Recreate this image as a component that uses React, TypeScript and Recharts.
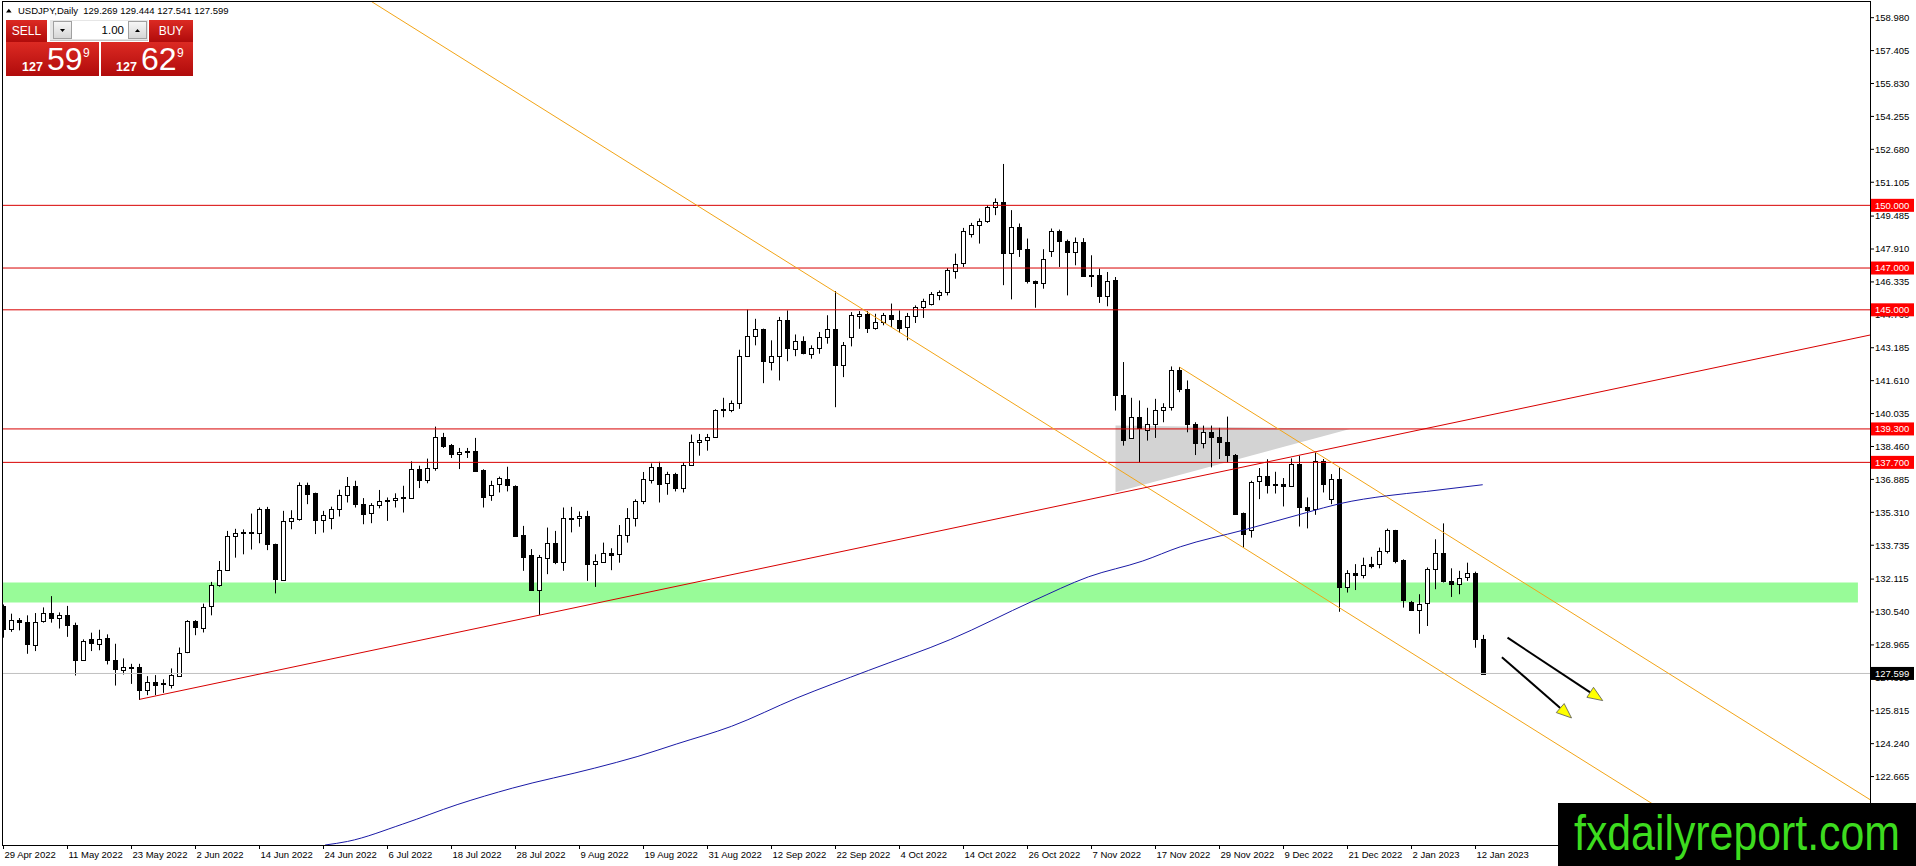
import React from 'react';
import { ComposedChart, Bar, Line, Area, XAxis, YAxis, ReferenceLine, ReferenceArea } from 'recharts';

// USDJPY daily bars, 29 Apr 2022 .. 16 Jan 2023
const opens = [
  130.83, 129.71, 130.14, 130.06, 128.99, 130.09, 130.47, 130.23, 130.38, 129.91,
  128.25, 129.23, 129.03, 129.29, 128.22, 127.77, 127.90, 127.90, 126.81, 127.21,
  127.13, 127.02, 127.50, 128.59, 130.09, 129.79, 130.84, 131.80, 132.54, 134.17,
  134.36, 134.35, 134.33, 135.46, 133.78, 132.10, 134.90, 134.99, 136.63, 136.23,
  134.94, 135.06, 135.46, 136.14, 136.57, 135.69, 135.30, 135.66, 135.91, 135.88,
  136.02, 136.00, 137.38, 136.85, 137.43, 138.90, 138.53, 138.10, 138.26, 138.26,
  137.35, 136.13, 136.66, 136.90, 136.58, 134.22, 133.26, 131.58, 133.11, 133.83,
  132.91, 135.04, 135.03, 135.14, 132.87, 132.95, 133.38, 133.30, 134.22, 135.02,
  135.85, 136.85, 137.49, 136.69, 137.14, 136.47, 137.59, 138.66, 138.77, 138.93,
  140.21, 140.21, 140.53, 142.80, 143.74, 144.08, 142.51, 142.80, 144.53, 143.14,
  143.50, 142.90, 143.17, 143.70, 144.10, 142.37, 143.66, 144.70, 144.81, 144.13,
  144.43, 144.74, 144.53, 144.14, 144.69, 145.13, 145.28, 145.74, 145.85, 146.89,
  147.21, 148.60, 149.04, 149.24, 149.90, 150.14, 147.74, 148.97, 147.92, 146.38,
  146.30, 147.77, 148.75, 148.30, 147.77, 148.24, 146.68, 146.65, 145.66, 146.41,
  140.93, 138.87, 139.86, 139.25, 139.54, 140.21, 140.37, 142.13, 141.22, 139.54,
  138.63, 139.17, 138.92, 138.69, 138.05, 135.27, 134.46, 136.77, 137.04, 136.66,
  136.66, 136.55, 137.62, 135.57, 135.45, 137.78, 135.94, 136.90, 131.71, 132.41,
  132.30, 132.86, 132.83, 133.43, 134.45, 133.03, 131.03, 130.67, 130.94, 132.59,
  133.38, 132.03, 131.87, 132.18, 132.39, 129.269,
];
const highs = [
  130.90, 130.46, 130.25, 130.38, 130.49, 130.76, 131.30, 130.52, 130.83, 130.03,
  129.23, 129.55, 129.69, 129.47, 129.02, 128.32, 128.06, 128.06, 127.47, 127.52,
  127.32, 127.84, 128.84, 130.15, 130.15, 130.94, 131.98, 132.98, 134.42, 134.52,
  134.49, 135.25, 135.54, 135.57, 133.81, 135.38, 135.41, 136.74, 136.73, 136.25,
  135.38, 135.58, 136.39, 137.00, 136.82, 135.99, 135.75, 136.38, 136.02, 136.22,
  136.58, 137.75, 137.54, 137.88, 139.41, 139.11, 138.58, 138.39, 138.39, 138.87,
  137.37, 136.82, 137.02, 137.49, 136.60, 134.66, 133.55, 133.27, 134.58, 134.42,
  135.54, 135.57, 135.35, 135.38, 133.30, 133.86, 133.59, 134.70, 135.51, 135.93,
  137.24, 137.65, 137.73, 137.25, 137.20, 137.69, 139.03, 139.06, 139.06, 140.24,
  140.79, 140.66, 143.09, 145.01, 144.57, 144.10, 143.54, 144.66, 144.97, 143.82,
  143.73, 143.30, 143.94, 144.74, 145.90, 143.46, 144.89, 144.94, 144.94, 144.81,
  144.85, 145.30, 144.97, 144.85, 145.21, 145.53, 145.85, 145.93, 147.00, 147.69,
  148.92, 149.16, 149.37, 150.01, 150.33, 151.98, 149.77, 149.13, 148.41, 146.40,
  147.90, 148.89, 148.84, 148.36, 148.46, 148.43, 147.61, 146.97, 146.81, 146.57,
  142.50, 140.79, 140.66, 140.31, 140.74, 140.53, 142.29, 142.26, 141.62, 139.62,
  139.46, 139.46, 139.35, 139.89, 138.10, 135.30, 136.82, 137.43, 137.85, 137.25,
  136.95, 137.89, 138.02, 136.02, 138.18, 137.86, 137.14, 137.46, 132.54, 132.83,
  133.14, 133.18, 133.62, 134.53, 134.47, 133.06, 131.07, 131.39, 132.67, 134.02,
  134.78, 132.63, 132.51, 132.90, 132.47, 129.444,
];
const lows = [
  129.31, 129.59, 129.66, 128.54, 128.67, 130.03, 130.03, 129.75, 129.35, 127.50,
  128.22, 128.67, 128.71, 128.03, 127.02, 127.55, 127.10, 126.33, 126.56, 126.56,
  126.67, 126.88, 127.44, 128.57, 129.43, 129.56, 130.38, 131.75, 132.50, 133.14,
  133.30, 133.53, 133.83, 133.50, 131.43, 132.05, 134.50, 134.91, 135.70, 134.27,
  134.34, 134.50, 135.11, 135.78, 135.54, 134.74, 134.79, 135.50, 134.90, 135.54,
  135.30, 135.98, 136.47, 136.70, 137.30, 138.39, 137.91, 137.38, 137.91, 137.27,
  135.54, 135.86, 136.26, 136.31, 134.14, 132.51, 131.55, 130.40, 132.35, 132.83,
  132.51, 134.35, 134.62, 132.03, 131.74, 132.90, 132.54, 132.90, 133.86, 134.63,
  135.70, 136.69, 135.78, 136.15, 136.31, 136.26, 137.55, 138.02, 138.26, 138.90,
  139.86, 140.10, 140.26, 142.74, 143.30, 141.49, 142.10, 141.62, 142.54, 142.78,
  142.87, 142.66, 142.90, 143.38, 140.34, 141.78, 143.25, 144.09, 143.89, 144.05,
  144.26, 144.18, 143.89, 143.54, 144.37, 144.61, 145.21, 145.46, 145.69, 146.49,
  147.05, 148.46, 148.17, 149.16, 149.53, 146.18, 145.50, 147.53, 146.26, 145.10,
  146.01, 147.53, 147.05, 145.69, 147.13, 146.57, 146.09, 145.33, 145.17, 140.18,
  138.50, 138.85, 137.70, 138.74, 138.87, 139.62, 140.18, 141.06, 139.14, 138.05,
  138.37, 137.46, 137.86, 137.70, 135.20, 133.62, 134.10, 135.94, 136.21, 136.21,
  135.59, 136.53, 134.63, 134.54, 135.19, 136.26, 135.70, 130.55, 131.47, 131.59,
  132.15, 132.63, 132.63, 133.34, 132.87, 130.75, 130.62, 129.50, 129.87, 131.63,
  131.95, 131.26, 131.39, 132.03, 128.83, 127.541,
];
const closes = [
  129.71, 130.14, 130.04, 128.99, 130.07, 130.47, 130.22, 130.38, 129.90, 128.25,
  129.15, 129.03, 129.27, 128.22, 127.77, 127.90, 127.86, 126.81, 127.20, 127.07,
  127.08, 127.52, 128.59, 130.09, 129.79, 130.78, 131.83, 132.54, 134.17, 134.31,
  134.31, 134.33, 135.46, 133.78, 132.10, 134.90, 135.03, 136.63, 136.22, 134.94,
  135.18, 135.48, 136.14, 136.57, 135.69, 135.22, 135.66, 135.85, 135.85, 135.98,
  136.00, 137.38, 136.85, 137.43, 138.90, 138.47, 138.10, 138.21, 138.23, 137.30,
  136.07, 136.62, 136.95, 136.62, 134.19, 133.19, 131.58, 133.18, 133.83, 132.91,
  135.03, 135.06, 135.13, 132.86, 132.99, 133.38, 133.30, 134.22, 135.02, 135.85,
  136.90, 137.49, 136.69, 137.14, 136.47, 137.59, 138.68, 138.77, 138.93, 140.21,
  140.23, 140.53, 142.80, 143.74, 144.08, 142.55, 142.80, 144.53, 143.18, 143.50,
  142.93, 143.17, 143.70, 144.10, 142.37, 143.33, 144.73, 144.81, 144.14, 144.41,
  144.77, 144.53, 144.13, 144.69, 145.13, 145.41, 145.74, 145.87, 146.89, 147.21,
  148.76, 149.05, 149.24, 149.90, 150.14, 147.69, 148.97, 147.92, 146.38, 146.29,
  147.45, 148.75, 148.25, 147.77, 148.24, 146.61, 146.62, 145.66, 146.38, 140.90,
  138.77, 139.86, 139.33, 139.54, 140.21, 140.37, 142.13, 141.22, 139.54, 138.63,
  139.17, 138.92, 138.68, 138.07, 135.22, 134.26, 136.77, 137.03, 136.61, 136.61,
  136.58, 137.62, 135.54, 135.45, 137.75, 136.69, 136.90, 131.71, 132.39, 132.30,
  132.78, 132.78, 133.46, 134.45, 132.98, 131.10, 130.67, 130.94, 132.59, 133.35,
  132.03, 131.87, 132.18, 132.39, 129.23, 127.599,
];

// bottom axis labels, one every 8 bars
const dateLabels = [
  '29 Apr 2022', '11 May 2022', '23 May 2022', '2 Jun 2022', '14 Jun 2022', '24 Jun 2022',
  '6 Jul 2022', '18 Jul 2022', '28 Jul 2022', '9 Aug 2022', '19 Aug 2022', '31 Aug 2022',
  '12 Sep 2022', '22 Sep 2022', '4 Oct 2022', '14 Oct 2022', '26 Oct 2022', '7 Nov 2022',
  '17 Nov 2022', '29 Nov 2022', '9 Dec 2022', '21 Dec 2022', '2 Jan 2023', '12 Jan 2023',
];
const priceTicks = [
  158.98, 157.405, 155.83, 154.255, 152.68, 151.105, 149.485, 147.91, 146.335, 144.76,
  143.185, 141.61, 140.035, 138.46, 136.885, 135.31, 133.735, 132.115, 130.54, 128.965,
  127.39, 125.815, 124.24, 122.665,
];
const levels = [150, 147, 145, 139.3, 137.7];
const lastPrice = 127.599;

// moving average (blue), sampled along the curve
const maBars = [40.2, 43.0, 49.9, 56.7, 63.6, 73.9, 79.3, 84.1, 91.0, 99.2, 108.1, 118.4, 128.7, 135.6, 142.4, 147.1, 155.0, 162.9, 167.1, 172.9, 177.9, 184.9];
const maValues = [119.39, 119.56, 120.39, 121.32, 122.11, 123.07, 123.63, 124.22, 125.07, 126.43, 127.74, 129.23, 131.07, 132.22, 132.98, 133.66, 134.46, 135.30, 135.73, 136.10, 136.31, 136.63];

// drawn objects: [bar, price] end points
const channelLower = [[46.0, 159.75], [214.5, 119.35]];
const channelUpper = [[147.0, 142.26], [233.4, 121.54]];
const supportLine = [[17.0, 126.36], [233.4, 143.80]];
const arrowA = [[188.0, 129.31], [199.9, 126.30]];
const arrowB = [[187.3, 128.38], [196.0, 125.47]];
const greenZone = { from: -0.1, to: 231.8, low: 131.0, high: 131.95 };
const pennant = [[139.0, 136.27, 139.46], [168.3, 139.3, 139.3]];

const X_DOMAIN = [-0.0625, 233.31];
const Y_DOMAIN = [119.39, 159.73];

const candleData = opens.map((o, i) => ({ x: i, open: o, high: highs[i], low: lows[i], close: closes[i] }));
const maData = maBars.map((x, k) => ({ x, ma: maValues[k] }));
const pennantData = pennant.map(([x, lo, hi]) => ({ x, range: [lo, hi] }));
const seg = (pts: number[][]) => pts.map(([x, y]) => ({ x, y }));

const FONT = '"Liberation Sans", Arial, sans-serif';

function renderCandle(props: any) {
  const { x, y, width, height, payload } = props;
  if (!payload) return null;
  const { open, close, high, low } = payload;
  const top = Math.min(y, y + height);
  const h = Math.abs(height);
  const k = high > low ? h / (high - low) : 0;
  const py = (p: number) => top + (high - p) * k;
  const cx = Math.round(x + width / 2) + 0.5;
  const bTop = py(Math.max(open, close));
  const bBot = py(Math.min(open, close));
  const up = close >= open;
  return (
    <g>
      <line x1={cx} x2={cx} y1={py(high)} y2={py(low)} stroke="#000" strokeWidth={1} />
      <rect x={cx - 2} y={Math.round(bTop) + 0.5} width={4} height={Math.max(Math.round(bBot - bTop), 1)}
        fill={up ? '#fff' : '#000'} stroke="#000" strokeWidth={1} />
    </g>
  );
}

function renderArrow(p: any) {
  const { x1, y1, x2, y2 } = p;
  const dx = x2 - x1;
  const dy = y2 - y1;
  const len = Math.hypot(dx, dy) || 1;
  const ux = dx / len;
  const uy = dy / len;
  const bx = x2 - ux * 15;
  const by = y2 - uy * 15;
  const pts = `${x2},${y2} ${bx - uy * 6},${by + ux * 6} ${bx + uy * 6},${by - ux * 6}`;
  return (
    <g>
      <line x1={x1} y1={y1} x2={bx} y2={by} stroke="#000" strokeWidth={2} />
      <polygon points={pts} fill="#ffff00" stroke="#555" strokeWidth={0.8} />
    </g>
  );
}

function PriceTick(props: any) {
  const { x, y, payload } = props;
  const v = payload.value;
  const ax = x - 6;
  const label = Number(v).toFixed(3);
  const isTag = levels.includes(v) || v === lastPrice;
  if (isTag) {
    return (
      <g>
        <rect x={ax + 1} y={y - 6.5} width={43} height={13} fill={v === lastPrice ? '#000' : '#f00'} />
        <text x={ax + 5} y={y} dy="0.35em" fontSize={9.5} fill="#fff">{label}</text>
      </g>
    );
  }
  return <text x={ax + 5} y={y} dy="0.35em" fontSize={9.5} fill="#000">{label}</text>;
}

function DateTick(props: any) {
  const { x, y, payload } = props;
  const label = dateLabels[Math.round(payload.value / 8)];
  return <text x={x + 1} y={y + 7} fontSize={9.5} fill="#000">{label}</text>;
}

const redFill = 'linear-gradient(#dc2a23, #b00b0b)';

function PriceBox({ left, width, big }: { left: number; width: number; big: string }) {
  const off = width === 93 ? 1 : 0;
  return (
    <div style={{ position: 'absolute', left, top: 42, width, height: 34, background: redFill }}>
      <svg width={width} height={34} style={{ position: 'absolute', left: 0, top: 0, overflow: 'visible' }}>
        <text x={15 + off} y={29} fontSize={12.5} fontWeight="bold" fill="#fff">127</text>
        <text x={40 + off} y={28} fontSize={32} fill="#fff">{big}</text>
        <text x={76 + off} y={15} fontSize={12} fill="#fff">9</text>
      </svg>
    </div>
  );
}

function TradePanel() {
  const head = { position: 'absolute' as const, top: 20, height: 22, background: redFill, color: '#fff', fontSize: 12, lineHeight: '22px', textAlign: 'center' as const };
  const btn = { position: 'absolute' as const, top: 1, width: 19, height: 18, background: 'linear-gradient(#f6f6f6, #d6d6d6)', border: '1px solid #a0a0a0', boxSizing: 'border-box' as const };
  return (
    <>
      <div style={{ ...head, left: 6, width: 41 }}>SELL</div>
      <div style={{ ...head, left: 149, width: 44 }}>BUY</div>
      <div style={{ position: 'absolute', left: 50, top: 20, width: 98, height: 20, background: '#e6e6e6', borderBottom: '1px solid #c8c8c8' }}>
        <div style={{ ...btn, left: 3 }}>
          <svg width={17} height={16}><polygon points="6,7 11,7 8.5,10" fill="#000" /></svg>
        </div>
        <div style={{ position: 'absolute', left: 22, top: 1, width: 56, height: 18, background: '#fff', fontSize: 11.5, lineHeight: '18px', textAlign: 'right', paddingRight: 4, boxSizing: 'border-box', color: '#000' }}>1.00</div>
        <div style={{ ...btn, left: 78 }}>
          <svg width={17} height={16}><polygon points="6,10 11,10 8.5,7" fill="#000" /></svg>
        </div>
      </div>
      <PriceBox left={6} width={93} big="59" />
      <PriceBox left={101} width={92} big="62" />
    </>
  );
}

export default function App() {
  return (
    <div style={{ position: 'absolute', left: 0, top: 0, width: 1916, height: 866, background: '#fff', overflow: 'hidden', fontFamily: FONT }}>
      <ComposedChart width={1916} height={866} data={candleData} margin={{ top: 2, right: 0, bottom: 0, left: 3 }}>
        <XAxis dataKey="x" type="number" domain={X_DOMAIN} ticks={dateLabels.map((_, k) => k * 8)} interval={0}
          tick={DateTick} tickSize={4} tickMargin={2} height={21} axisLine={false} tickLine={{ stroke: '#000' }} allowDataOverflow />
        <YAxis orientation="right" type="number" domain={Y_DOMAIN} ticks={[...priceTicks, ...levels, lastPrice]} interval={0}
          tick={PriceTick} tickSize={4} tickMargin={2} width={46} axisLine={false} tickLine={{ stroke: '#000' }} allowDataOverflow />
        <ReferenceArea x1={greenZone.from} x2={greenZone.to} y1={greenZone.low} y2={greenZone.high} fill="#98fb98" fillOpacity={1} stroke="none" ifOverflow="hidden" />
        <Area data={pennantData} dataKey="range" type="linear" fill="#d3d3d3" fillOpacity={1} stroke="none" isAnimationActive={false} />
        {levels.map((lv) => (
          <ReferenceLine key={lv} y={lv} stroke="#d80000" strokeWidth={1} />
        ))}
        <ReferenceLine y={lastPrice} stroke="#c0c0c0" strokeWidth={1} />
        <ReferenceLine segment={seg(channelLower)} stroke="#f2a416" strokeWidth={1} ifOverflow="hidden" />
        <ReferenceLine segment={seg(channelUpper)} stroke="#f2a416" strokeWidth={1} ifOverflow="hidden" />
        <ReferenceLine segment={seg(supportLine)} stroke="#d80000" strokeWidth={1} ifOverflow="hidden" />
        <Line data={maData} dataKey="ma" type="monotone" stroke="#1a1aa6" strokeWidth={1} dot={false} activeDot={false} isAnimationActive={false} />
        <Bar dataKey={(d: any) => [d.low, d.high]} shape={renderCandle} barSize={5} isAnimationActive={false} />
        <ReferenceLine segment={seg(arrowA)} shape={renderArrow} ifOverflow="visible" />
        <ReferenceLine segment={seg(arrowB)} shape={renderArrow} ifOverflow="visible" />
      </ComposedChart>

      {/* plot frame */}
      <div style={{ position: 'absolute', left: 2, top: 1, width: 1869, height: 845, border: '1px solid #000', boxSizing: 'border-box', pointerEvents: 'none' }} />

      {/* header */}
      <svg width={260} height={18} style={{ position: 'absolute', left: 0, top: 0 }}>
        <polygon points="6,12.5 8.8,8.8 11.6,12.5" fill="#000" />
        <text x={18} y={14} fontSize={9.5} fill="#000" style={{ whiteSpace: 'pre' }}>USDJPY,Daily  129.269 129.444 127.541 127.599</text>
      </svg>

      <TradePanel />

      <div style={{ position: 'absolute', left: 1558, top: 803, width: 358, height: 63, background: '#000' }}>
        <svg width={358} height={63}>
          <text x={16} y={47} fontSize={50} fill="#3ddc1f" textLength={326} lengthAdjust="spacingAndGlyphs">fxdailyreport.com</text>
        </svg>
      </div>
    </div>
  );
}
